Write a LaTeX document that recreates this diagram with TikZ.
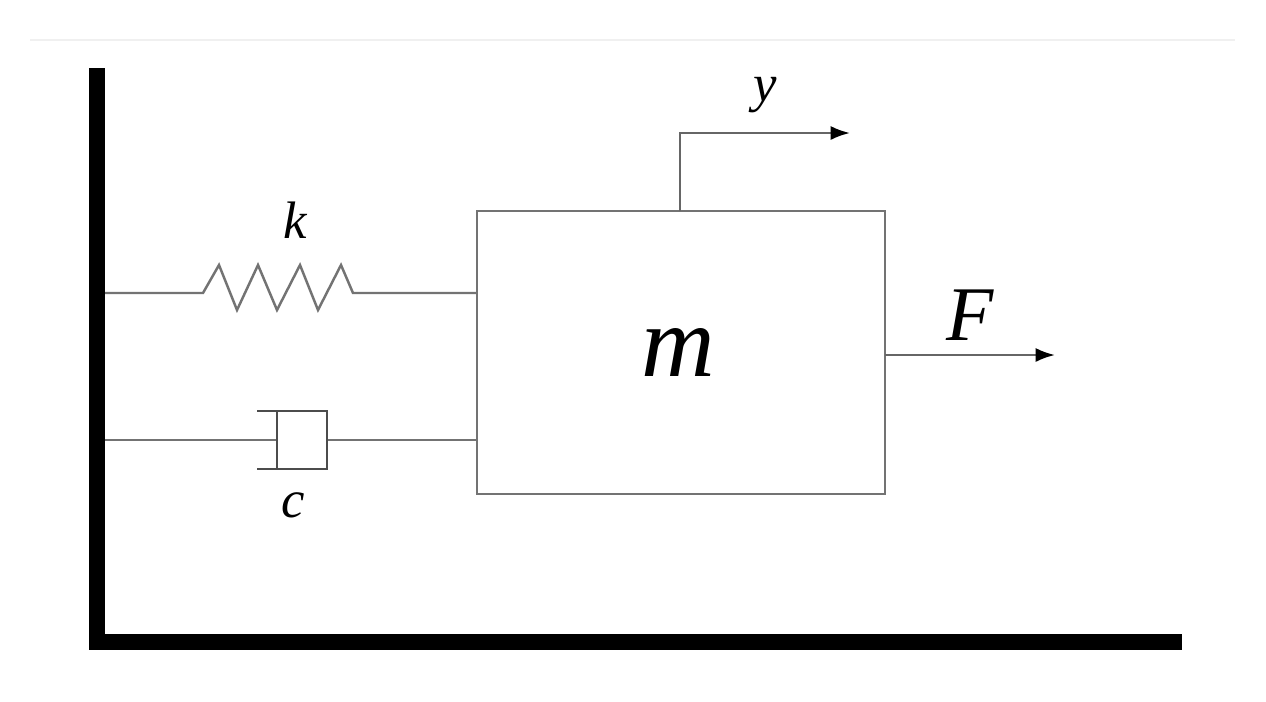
\documentclass[tikz,border=0pt]{standalone}
\usepackage{fontspec}
\setmainfont{Liberation Serif}
\usetikzlibrary{arrows.meta}
\begin{document}
\begin{tikzpicture}[x=0.02cm,y=-0.02cm,
  thin/.style={draw=black!55,line width=1.4pt},
  dark/.style={draw=black!70,line width=1.4pt},
  wall/.style={draw=black,line width=9pt},
  lbl/.style={font=\itshape\fontsize{30}{30}\selectfont},
  arr/.style={draw=black!60,line width=1.4pt,-{Latex[length=11pt,width=8pt,color=black]}}]
\fill[white] (0,0) rectangle (1266,701);
\draw[draw=black!6,line width=1.5pt] (30,40) -- (1235,40);
% wall and floor
\draw[wall] (97,68) -- (97,642) -- (1182,642);
% mass
\node[draw=black!55,line width=1.4pt,minimum width=8.16cm,minimum height=5.66cm,inner sep=0,outer sep=0] (m) at (681,352.5) {};
\coordinate (mw) at (477,293);
\coordinate (mc) at (477,440);
\node[font=\itshape\fontsize{58}{58}\selectfont] (mlab) at (678,352) {m};
% spring
\coordinate (ws) at (105,293);
\draw[thin] (ws) -- (203,293) -- (219,265) -- (237,310) -- (258,265) -- (277,310) -- (300,265) -- (318,310) -- (341,265) -- (353,293) -- (mw);
\node[lbl] (k) at (295,220) {k};
% damper
\coordinate (wd) at (105,440);
\draw[thin] (wd) -- (277,440);
\draw[thin] (327,440) -- (mc);
\draw[dark] (257,411) -- (327,411) -- (327,469) -- (257,469);
\draw[dark] (277,411) -- (277,469);
\node[lbl] (c) at (293,505) {c};
% y arrow
\coordinate (ytop) at (680,211);
\coordinate (yend) at (850,133);
\draw[arr] (ytop) -- (680,133) -- (yend);
\node[lbl] (y) at (765,95) {y};
% F arrow
\coordinate (fs) at (885,355);
\coordinate (fe) at (1055,355);
\draw[arr] (fs) -- (fe);
\node[font=\itshape\fontsize{44}{44}\selectfont] (F) at (970,315) {F};
\end{tikzpicture}
\end{document}
